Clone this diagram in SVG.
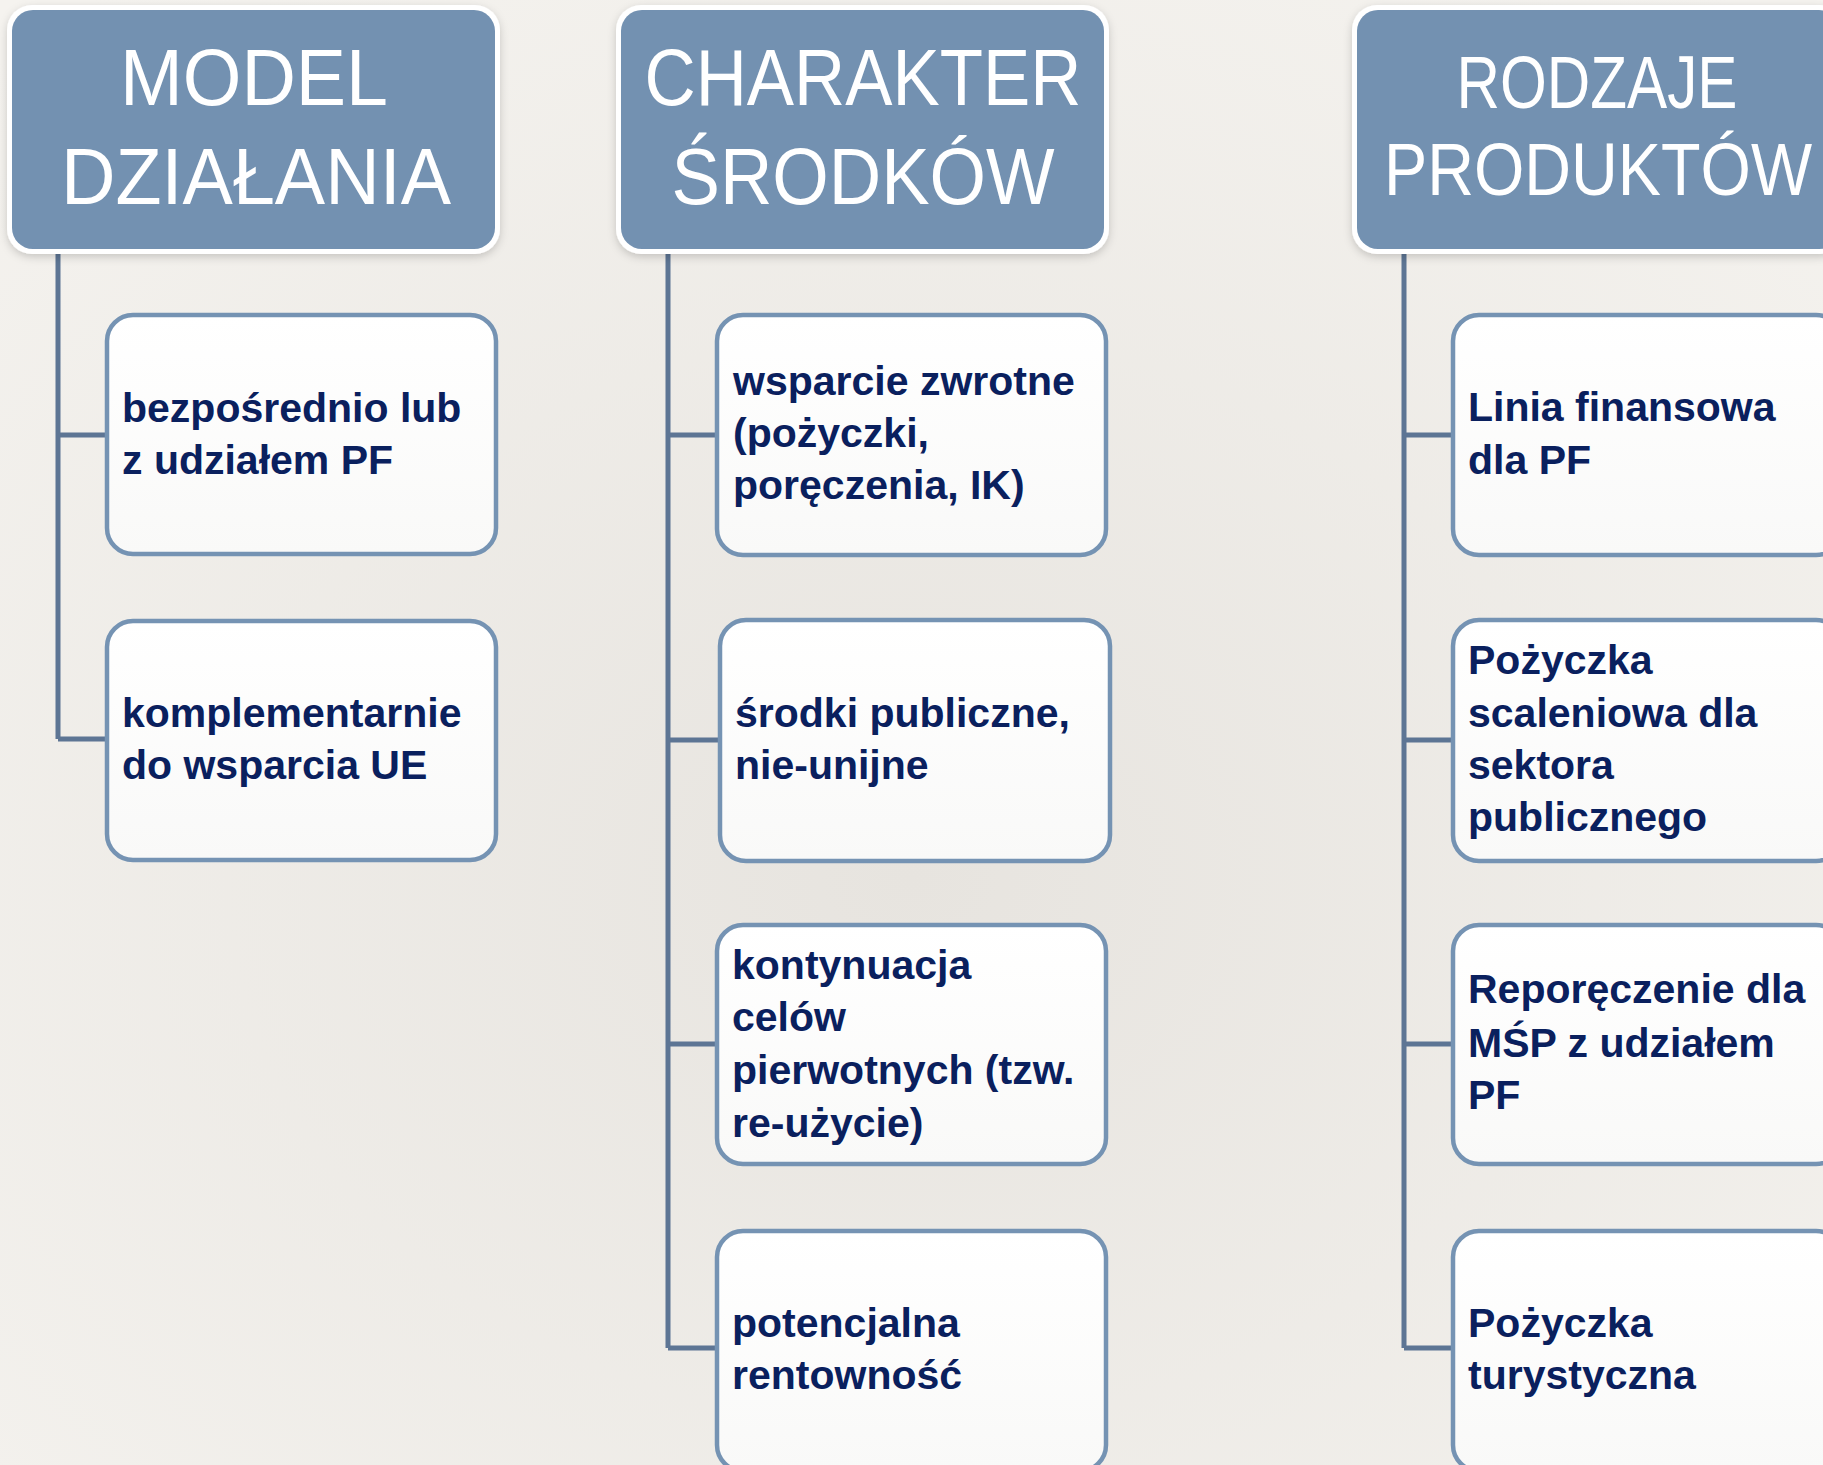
<svg xmlns="http://www.w3.org/2000/svg" width="1823" height="1465" viewBox="0 0 1823 1465">
<defs>
<radialGradient id="bg" cx="0.5" cy="0.6" r="0.75">
<stop offset="0" stop-color="#E7E4DF"/>
<stop offset="1" stop-color="#F5F3EF"/>
</radialGradient>
<linearGradient id="boxfill" x1="0" y1="0" x2="0" y2="1">
<stop offset="0" stop-color="#FFFFFF"/>
<stop offset="1" stop-color="#F9F9F8"/>
</linearGradient>
<filter id="sh" x="-10%" y="-10%" width="120%" height="130%">
<feDropShadow dx="0" dy="3" stdDeviation="4" flood-color="#000" flood-opacity="0.18"/>
</filter>
</defs>
<style>
.hdr-ring{fill:#FFFFFF;}
.hdr{fill:#7391B1;}
.htxt{font-family:"Liberation Sans",Arial,sans-serif;fill:#FFFFFF;text-anchor:middle;}
.box{fill:url(#boxfill);stroke:#7593B3;stroke-width:4.5;}
.btxt{font-family:"Liberation Sans",Arial,sans-serif;font-weight:bold;font-size:41px;fill:#0A205E;}
.conn{fill:none;stroke:#5D7594;stroke-width:5;}
</style>
<rect x="0" y="0" width="1823" height="1465" fill="url(#bg)"/>

<g id="connectors">
<path class="conn" d="M58,249 V739 M58,435 H107 M58,739 H107"/>
<path class="conn" d="M668,249 V1348 M668,435 H717 M668,740 H720 M668,1044 H717 M668,1348 H717"/>
<path class="conn" d="M1404,249 V1348 M1404,435 H1453 M1404,740 H1453 M1404,1044 H1453 M1404,1348 H1453"/>
</g>

<g id="hdr-model" filter="url(#sh)">
<rect class="hdr-ring" x="7" y="5" width="493" height="249" rx="25"/>
<rect class="hdr" x="12" y="10" width="483" height="239" rx="21"/>
<text class="htxt" x="254" y="105" font-size="79" textLength="268" lengthAdjust="spacingAndGlyphs">MODEL</text>
<text class="htxt" x="256" y="204" font-size="79" textLength="390" lengthAdjust="spacingAndGlyphs">DZIAŁANIA</text>
</g>

<g id="hdr-charakter" filter="url(#sh)">
<rect class="hdr-ring" x="616" y="5" width="493" height="249" rx="25"/>
<rect class="hdr" x="621" y="10" width="483" height="239" rx="21"/>
<text class="htxt" x="863" y="105" font-size="79" textLength="437" lengthAdjust="spacingAndGlyphs">CHARAKTER</text>
<text class="htxt" x="863" y="204" font-size="79" textLength="383" lengthAdjust="spacingAndGlyphs">ŚRODKÓW</text>
</g>

<g id="hdr-rodzaje" filter="url(#sh)">
<rect class="hdr-ring" x="1352" y="5" width="493" height="249" rx="25"/>
<rect class="hdr" x="1357" y="10" width="483" height="239" rx="21"/>
<text class="htxt" x="1597" y="108" font-size="74" textLength="281" lengthAdjust="spacingAndGlyphs">RODZAJE</text>
<text class="htxt" x="1598" y="195" font-size="74" textLength="428" lengthAdjust="spacingAndGlyphs">PRODUKTÓW</text>
</g>

<g id="n-bezposrednio">
<rect class="box" x="107" y="315" width="389" height="239" rx="26"/>
<text class="btxt" x="122" y="422">bezpośrednio lub</text>
<text class="btxt" x="122" y="474">z udziałem PF</text>
</g>
<g id="n-komplementarnie">
<rect class="box" x="107" y="621" width="389" height="239" rx="26"/>
<text class="btxt" x="122" y="727">komplementarnie</text>
<text class="btxt" x="122" y="779">do wsparcia UE</text>
</g>

<g id="n-wsparcie">
<rect class="box" x="717" y="315" width="389" height="240" rx="26"/>
<text class="btxt" x="733" y="395">wsparcie zwrotne</text>
<text class="btxt" x="733" y="447">(pożyczki,</text>
<text class="btxt" x="733" y="499">poręczenia, IK)</text>
</g>
<g id="n-srodki">
<rect class="box" x="720" y="620" width="390" height="241" rx="26"/>
<text class="btxt" x="735" y="727">środki publiczne,</text>
<text class="btxt" x="735" y="779">nie-unijne</text>
</g>
<g id="n-kontynuacja">
<rect class="box" x="717" y="925" width="389" height="239" rx="26"/>
<text class="btxt" x="732" y="979">kontynuacja</text>
<text class="btxt" x="732" y="1031">celów</text>
<text class="btxt" x="732" y="1084">pierwotnych (tzw.</text>
<text class="btxt" x="732" y="1137">re-użycie)</text>
</g>
<g id="n-potencjalna">
<rect class="box" x="717" y="1231" width="389" height="240" rx="26"/>
<text class="btxt" x="732" y="1337">potencjalna</text>
<text class="btxt" x="732" y="1389">rentowność</text>
</g>

<g id="n-linia">
<rect class="box" x="1453" y="315" width="389" height="240" rx="26"/>
<text class="btxt" x="1468" y="421">Linia finansowa</text>
<text class="btxt" x="1468" y="474">dla PF</text>
</g>
<g id="n-scaleniowa">
<rect class="box" x="1453" y="620" width="389" height="241" rx="26"/>
<text class="btxt" x="1468" y="674">Pożyczka</text>
<text class="btxt" x="1468" y="727">scaleniowa dla</text>
<text class="btxt" x="1468" y="779">sektora</text>
<text class="btxt" x="1468" y="831">publicznego</text>
</g>
<g id="n-reporeczenie">
<rect class="box" x="1453" y="925" width="389" height="239" rx="26"/>
<text class="btxt" x="1468" y="1003">Reporęczenie dla</text>
<text class="btxt" x="1468" y="1057">MŚP z udziałem</text>
<text class="btxt" x="1468" y="1109">PF</text>
</g>
<g id="n-turystyczna">
<rect class="box" x="1453" y="1231" width="389" height="240" rx="26"/>
<text class="btxt" x="1468" y="1337">Pożyczka</text>
<text class="btxt" x="1468" y="1389">turystyczna</text>
</g>
</svg>
